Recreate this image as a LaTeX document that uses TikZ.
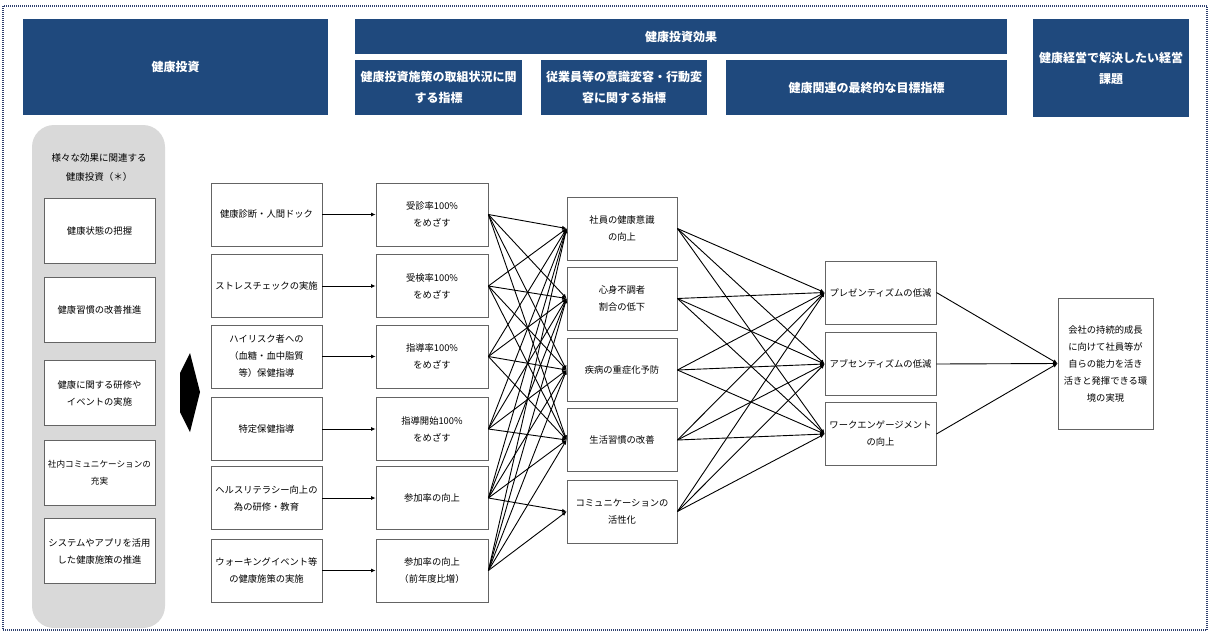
\documentclass[tikz,border=0pt]{standalone}
\usepackage{fontspec}
\setmainfont{Noto Sans CJK JP}
\usetikzlibrary{arrows.meta}
\definecolor{hdrblue}{RGB}{31,73,125}
\definecolor{frameblue}{RGB}{47,64,110}
\definecolor{panelgray}{RGB}{217,217,217}
\definecolor{boxgray}{RGB}{100,100,100}
\begin{document}
\begin{tikzpicture}[x=1pt,y=-1pt]
\tikzstyle{every node}+=[inner sep=0pt]
\tikzstyle{hdr}=[fill=hdrblue, text=white, align=center, font=\bfseries\fontsize{12}{21}\selectfont]
\tikzstyle{box}=[draw=boxgray, fill=white, line width=0.8pt, align=center, minimum width=111pt, minimum height=63pt, font=\fontsize{9.3}{17}\selectfont]
\tikzstyle{link}=[black, line width=0.9pt, -{Latex[length=4.5pt,width=4pt]}]
\useasboundingbox (0,0) rectangle (1214,640);
\draw [frameblue, line width=1.2pt, dash pattern=on 1pt off 1pt] (3,6) rectangle (1207,630);
% headers
\node [hdr, minimum width=305pt, minimum height=96pt] (hinv) at (175.5,67) {健康投資};
\node [hdr, minimum width=652pt, minimum height=35pt] (heff) at (681,36.5) {健康投資効果};
\node [hdr, minimum width=167pt, minimum height=55pt] (hact) at (438.5,87.5) {健康投資施策の取組状況に関\\する指標};
\node [hdr, minimum width=166pt, minimum height=55pt] (hbeh) at (624,87.5) {従業員等の意識変容・行動変\\容に関する指標};
\node [hdr, minimum width=281pt, minimum height=55pt] (hfin) at (866.5,87.5) {健康関連の最終的な目標指標};
\node [hdr, minimum width=156pt, minimum height=98pt] (hgoal) at (1111,68) {健康経営で解決したい経営\\課題};
% left panel
\fill [panelgray, rounded corners=22pt] (32,125) rectangle (165,628);
\node [align=center, font=\fontsize{9.5}{19}\selectfont] (ptitle) at (99,167) {様々な効果に関連する\\健康投資（＊）};
\node [box, minimum height=65pt] (p1) at (99.5,230.5) {健康状態の把握};
\node [box, minimum height=65pt] (p2) at (99.5,310) {健康習慣の改善推進};
\node [box, minimum height=65pt] (p3) at (99.5,393) {健康に関する研修や\\イベントの実施};
\node [box, minimum height=65pt, font=\fontsize{8.6}{17}\selectfont] (p4) at (99.5,473) {社内コミュニケーションの\\充実};
\node [box, minimum height=65pt] (p5) at (99.5,551) {システムやアプリを活用\\した健康施策の推進};
\fill [black] (180,373) -- (190,353) -- (200,392) -- (190,432) -- (180,412) -- cycle;
% measures
\node [box] (m1) at (266.5,214.5) {健康診断・人間ドック};
\node [box] (m2) at (266.5,286) {ストレスチェックの実施};
\node [box] (m3) at (266.5,356.5) {ハイリスク者への\\（血糖・血中脂質\\等）保健指導};
\node [box] (m4) at (266.5,429) {特定保健指導};
\node [box] (m5) at (266.5,498) {ヘルスリテラシー向上の\\為の研修・教育};
\node [box] (m6) at (266.5,570.5) {ウォーキングイベント等\\の健康施策の実施};
% targets
\node [box, minimum width=112pt] (t1) at (432,214.5) {受診率100\%\\をめざす};
\node [box, minimum width=112pt] (t2) at (432,286) {受検率100\%\\をめざす};
\node [box, minimum width=112pt] (t3) at (432,356.5) {指導率100\%\\をめざす};
\node [box, minimum width=112pt] (t4) at (432,429) {指導開始100\%\\をめざす};
\node [box, minimum width=112pt] (t5) at (432,498) {参加率の向上};
\node [box, minimum width=112pt] (t6) at (432,570.5) {参加率の向上\\（前年度比増）};
% changes
\node [box, minimum width=110pt] (c1) at (622,228.5) {社員の健康意識\\の向上};
\node [box, minimum width=110pt] (c2) at (622,298.5) {心身不調者\\割合の低下};
\node [box, minimum width=110pt] (c3) at (622,370) {疾病の重症化予防};
\node [box, minimum width=110pt] (c4) at (622,440) {生活習慣の改善};
\node [box, minimum width=110pt] (c5) at (622,511.5) {コミュニケーションの\\活性化};
% final indicators
\node [box] (f1) at (880.5,292.5) {プレゼンティズムの低減};
\node [box] (f2) at (880.5,364) {アブセンティズムの低減};
\node [box] (f3) at (880.5,434) {ワークエンゲージメント\\の向上};
\node [box, minimum width=95pt, minimum height=131pt] (goal) at (1105.5,363.5) {会社の持続的成長\\に向けて社員等が\\自らの能力を活き\\活きと発揮できる環\\境の実現};
% measures to targets
\draw [link] (m1.east) -- (t1.west);
\draw [link] (m2.east) -- (t2.west);
\draw [link] (m3.east) -- (t3.west);
\draw [link] (m4.east) -- (t4.west);
\draw [link] (m5.east) -- (t5.west);
\draw [link] (m6.east) -- (t6.west);
% targets to changes
\draw [link] (t1.east) -- (c1.west);
\draw [link] (t1.east) -- (c2.west);
\draw [link] (t1.east) -- (c3.west);
\draw [link] (t1.east) -- (c4.west);
\draw [link] (t2.east) -- (c1.west);
\draw [link] (t2.east) -- (c2.west);
\draw [link] (t2.east) -- (c3.west);
\draw [link] (t2.east) -- (c4.west);
\draw [link] (t3.east) -- (c1.west);
\draw [link] (t3.east) -- (c2.west);
\draw [link] (t3.east) -- (c3.west);
\draw [link] (t3.east) -- (c4.west);
\draw [link] (t4.east) -- (c1.west);
\draw [link] (t4.east) -- (c2.west);
\draw [link] (t4.east) -- (c3.west);
\draw [link] (t4.east) -- (c4.west);
\draw [link] (t5.east) -- (c1.west);
\draw [link] (t5.east) -- (c2.west);
\draw [link] (t5.east) -- (c3.west);
\draw [link] (t5.east) -- (c4.west);
\draw [link] (t5.east) -- (c5.west);
\draw [link] (t6.east) -- (c1.west);
\draw [link] (t6.east) -- (c2.west);
\draw [link] (t6.east) -- (c3.west);
\draw [link] (t6.east) -- (c4.west);
\draw [link] (t6.east) -- (c5.west);
% changes to final indicators
\draw [link] (c1.east) -- (f1.west);
\draw [link] (c1.east) -- (f2.west);
\draw [link] (c1.east) -- (f3.west);
\draw [link] (c2.east) -- (f1.west);
\draw [link] (c2.east) -- (f2.west);
\draw [link] (c2.east) -- (f3.west);
\draw [link] (c3.east) -- (f1.west);
\draw [link] (c3.east) -- (f2.west);
\draw [link] (c3.east) -- (f3.west);
\draw [link] (c4.east) -- (f1.west);
\draw [link] (c4.east) -- (f2.west);
\draw [link] (c4.east) -- (f3.west);
\draw [link] (c5.east) -- (f1.west);
\draw [link] (c5.east) -- (f2.west);
\draw [link] (c5.east) -- (f3.west);
% final indicators to goal
\draw [link] (f1.east) -- (goal.west);
\draw [link] (f2.east) -- (goal.west);
\draw [link] (f3.east) -- (goal.west);
\end{tikzpicture}
\end{document}
